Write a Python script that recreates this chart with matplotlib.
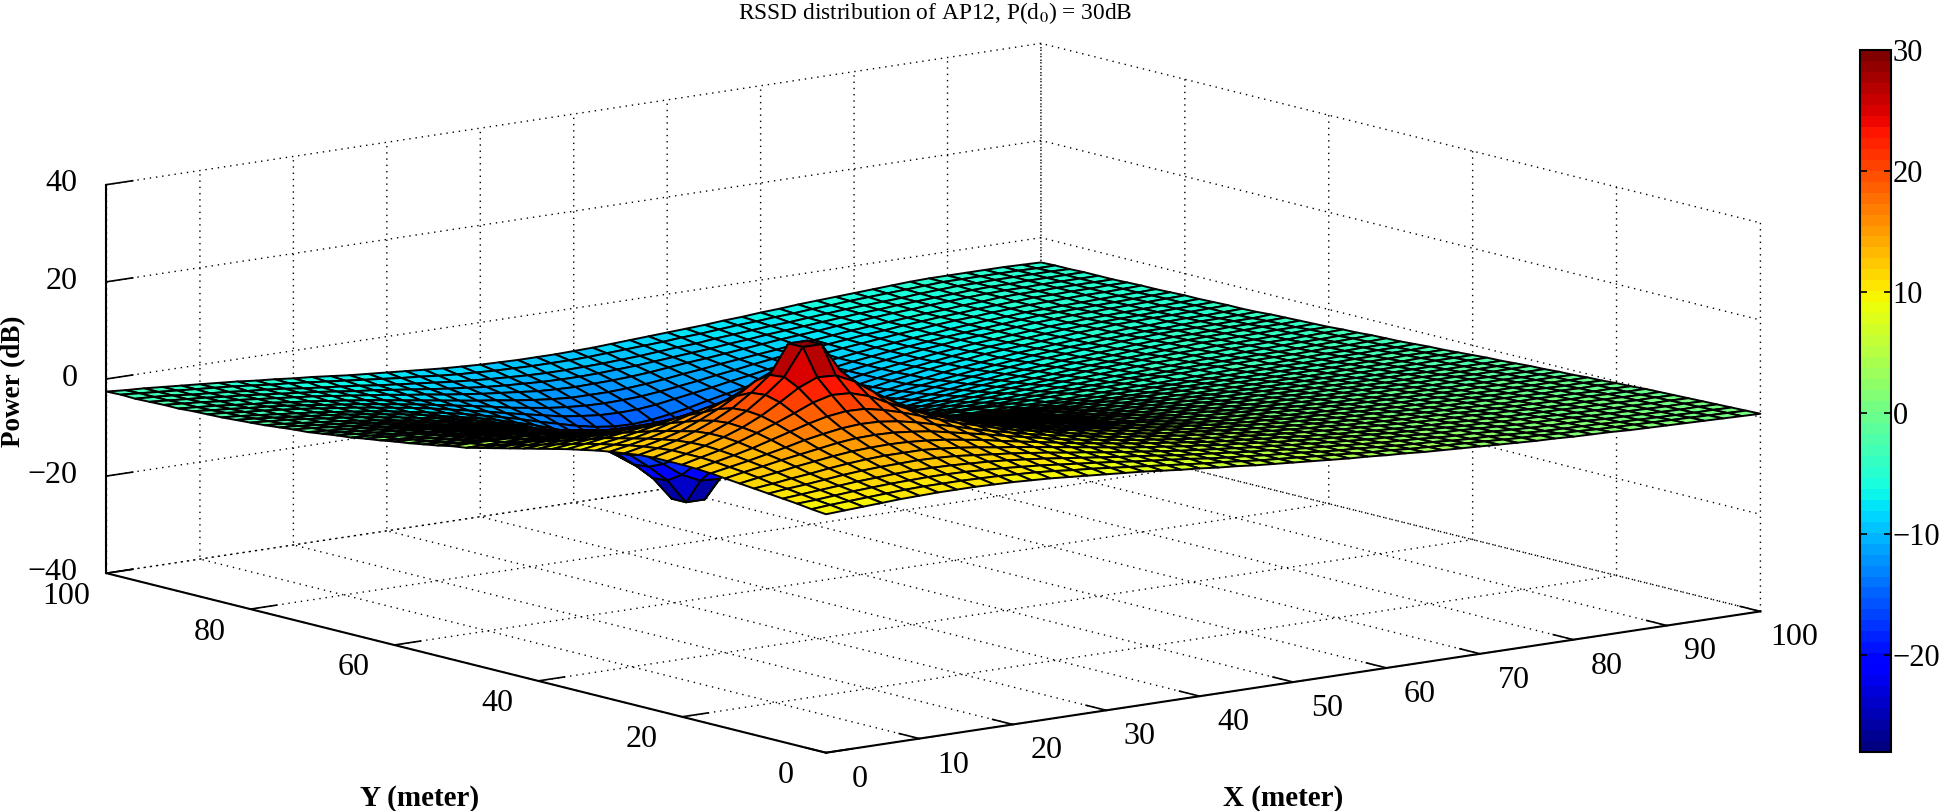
import numpy as np
import matplotlib
matplotlib.use('Agg')
import matplotlib.pyplot as plt

plt.rcParams['font.family'] = ['Liberation Serif', 'DejaVu Serif']
plt.rcParams['mathtext.fontset'] = 'stix'
plt.rcParams['grid.linestyle'] = ':'
plt.rcParams['grid.color'] = 'black'
plt.rcParams['grid.linewidth'] = 1.0
plt.rcParams['lines.dotted_pattern'] = [1, 3.5]

x_ticks = list(range(0, 101, 10))
y_ticks = list(range(0, 101, 20))
z_ticks = [-40, -20, 0, 20, 40]
z_labels = ['\u221240', '\u221220', '0', '20', '40']
cbar_ticks = [-20, -10, 0, 10, 20, 30]

x_m = list(range(0, 101, 2))
y_m = list(range(0, 101, 2))
# one row per y
power_db = [
[9.1,9.3,9.5,9.7,9.9,10.0,10.1,10.1,10.1,10.0,9.9,9.7,9.5,9.2,8.9,8.6,8.3,8.0,7.6,7.2,6.9,6.5,6.2,5.8,5.5,5.2,4.9,4.6,4.3,4.1,3.8,3.6,3.3,3.1,2.9,2.7,2.5,2.3,2.1,2.0,1.8,1.7,1.6,1.4,1.3,1.2,1.1,1.0,0.9,0.8,0.7],
[9.4,9.7,9.9,10.1,10.3,10.5,10.6,10.6,10.6,10.5,10.4,10.2,10.0,9.7,9.3,9.0,8.6,8.2,7.8,7.4,7.0,6.6,6.3,5.9,5.5,5.2,4.9,4.6,4.3,4.0,3.7,3.5,3.2,3.0,2.8,2.6,2.4,2.2,2.0,1.9,1.7,1.6,1.4,1.3,1.2,1.1,1.0,0.9,0.8,0.7,0.6],
[9.8,10.0,10.3,10.6,10.8,11.0,11.1,11.2,11.2,11.1,10.9,10.7,10.4,10.1,9.7,9.3,8.9,8.5,8.0,7.6,7.2,6.8,6.3,5.9,5.6,5.2,4.9,4.6,4.2,3.9,3.7,3.4,3.1,2.9,2.7,2.4,2.2,2.1,1.9,1.7,1.5,1.4,1.3,1.2,1.0,0.9,0.8,0.7,0.6,0.6,0.5],
[10.1,10.4,10.7,11.0,11.3,11.5,11.7,11.8,11.8,11.7,11.5,11.3,11.0,10.6,10.2,9.7,9.2,8.7,8.2,7.8,7.3,6.8,6.4,6.0,5.6,5.2,4.9,4.5,4.2,3.9,3.6,3.3,3.0,2.8,2.6,2.3,2.1,2.0,1.8,1.6,1.4,1.3,1.2,1.1,0.9,0.8,0.7,0.6,0.5,0.5,0.4],
[10.4,10.8,11.1,11.5,11.9,12.2,12.4,12.5,12.6,12.5,12.3,11.9,11.5,11.1,10.6,10.1,9.5,9.0,8.4,7.9,7.4,6.9,6.4,6.0,5.6,5.2,4.8,4.5,4.1,3.8,3.5,3.2,2.9,2.7,2.5,2.2,2.0,1.9,1.7,1.5,1.3,1.2,1.1,1.0,0.8,0.7,0.6,0.5,0.4,0.4,0.3],
[10.7,11.1,11.6,12.0,12.5,12.9,13.2,13.4,13.4,13.4,13.1,12.7,12.2,11.6,11.1,10.5,9.9,9.3,8.7,8.1,7.5,7.0,6.5,6.0,5.6,5.1,4.8,4.4,4.0,3.7,3.4,3.1,2.8,2.6,2.3,2.1,1.9,1.7,1.5,1.4,1.2,1.1,1.0,0.8,0.7,0.6,0.5,0.4,0.3,0.3,0.2],
[11.0,11.6,12.1,12.7,13.2,13.7,14.1,14.3,14.4,14.3,14.0,13.6,13.0,12.4,11.6,10.9,10.2,9.5,8.8,8.2,7.6,7.0,6.5,6.0,5.5,5.0,4.6,4.3,3.9,3.6,3.2,2.9,2.6,2.4,2.1,1.9,1.7,1.5,1.4,1.2,1.1,0.9,0.8,0.7,0.6,0.5,0.4,0.3,0.2,0.2,0.1],
[11.3,12.0,12.6,13.3,13.9,14.5,15.1,15.5,15.6,15.5,15.1,14.6,13.8,13.0,12.2,11.3,10.5,9.7,8.9,8.2,7.6,7.0,6.4,5.9,5.4,4.9,4.5,4.1,3.8,3.4,3.1,2.8,2.5,2.2,2.0,1.8,1.6,1.4,1.2,1.1,1.0,0.8,0.7,0.5,0.4,0.3,0.3,0.2,0.1,0.0,0.0],
[11.6,12.3,13.0,13.8,14.6,15.5,16.2,16.8,17.1,17.0,16.5,15.7,14.7,13.7,12.6,11.6,10.7,9.8,9.0,8.3,7.6,6.9,6.3,5.8,5.3,4.8,4.4,4.0,3.6,3.2,2.9,2.6,2.3,2.1,1.8,1.6,1.4,1.2,1.1,0.9,0.8,0.6,0.5,0.4,0.3,0.2,0.1,0.1,0.0,-0.1,-0.1],
[11.8,12.6,13.4,14.3,15.4,16.5,17.6,18.5,19.0,18.9,18.1,17.0,15.7,14.4,13.1,12.0,10.9,9.9,9.1,8.3,7.5,6.8,6.2,5.6,5.1,4.6,4.2,3.8,3.4,3.0,2.7,2.4,2.1,1.9,1.6,1.4,1.2,1.0,0.9,0.7,0.6,0.5,0.3,0.2,0.1,0.1,0.0,-0.1,-0.2,-0.2,-0.3],
[11.9,12.8,13.7,14.8,16.1,17.5,19.0,20.6,21.6,21.4,20.2,18.3,16.5,14.8,13.5,12.2,11.0,10.0,9.0,8.2,7.4,6.8,6.1,5.5,4.9,4.4,4.0,3.5,3.1,2.8,2.5,2.2,1.9,1.7,1.4,1.2,1.0,0.9,0.7,0.5,0.4,0.3,0.2,0.1,0.0,-0.1,-0.2,-0.2,-0.3,-0.3,-0.4],
[11.9,12.8,13.9,15.1,16.5,18.3,20.5,22.9,24.5,24.3,22.5,19.8,17.3,15.3,13.7,12.2,11.0,9.9,8.9,8.0,7.2,6.5,5.9,5.3,4.7,4.2,3.7,3.3,2.9,2.5,2.2,1.9,1.7,1.4,1.2,1.0,0.8,0.6,0.5,0.3,0.2,0.1,0.0,-0.1,-0.2,-0.3,-0.3,-0.4,-0.5,-0.5,-0.6],
[11.9,12.8,13.8,15.1,16.7,18.6,21.3,24.4,30.0,30.0,24.0,20.6,17.6,15.4,13.5,12.1,10.8,9.6,8.6,7.7,6.9,6.2,5.6,5.0,4.4,3.9,3.4,3.0,2.6,2.2,1.9,1.6,1.4,1.1,0.9,0.7,0.5,0.4,0.2,0.1,0.0,-0.1,-0.2,-0.3,-0.4,-0.5,-0.5,-0.6,-0.6,-0.7,-0.7],
[11.7,12.5,13.5,14.8,16.4,18.4,21.0,24.1,30.0,30.0,23.7,20.3,17.3,15.1,13.3,11.8,10.5,9.4,8.4,7.4,6.6,5.9,5.3,4.7,4.1,3.5,3.1,2.7,2.3,1.9,1.6,1.3,1.1,0.9,0.7,0.5,0.3,0.2,0.0,-0.1,-0.2,-0.3,-0.4,-0.5,-0.6,-0.6,-0.7,-0.7,-0.8,-0.8,-0.9],
[11.3,12.1,13.0,14.1,15.7,17.5,19.6,22.1,23.7,23.5,21.7,18.9,16.5,14.4,12.7,11.3,10.0,8.9,8.0,7.1,6.2,5.5,4.8,4.2,3.6,3.1,2.6,2.2,1.9,1.6,1.3,1.0,0.8,0.6,0.4,0.2,0.0,-0.1,-0.3,-0.4,-0.5,-0.6,-0.6,-0.7,-0.8,-0.8,-0.9,-0.9,-1.0,-1.0,-1.0],
[10.9,11.6,12.4,13.4,14.7,16.1,17.6,19.2,20.2,20.1,18.8,16.9,15.1,13.4,11.9,10.5,9.3,8.2,7.3,6.4,5.6,4.9,4.3,3.7,3.1,2.7,2.2,1.8,1.5,1.2,0.9,0.7,0.5,0.2,0.0,-0.1,-0.3,-0.4,-0.5,-0.6,-0.7,-0.8,-0.8,-0.9,-1.0,-1.0,-1.0,-1.1,-1.1,-1.2,-1.2],
[10.4,11.0,11.7,12.6,13.7,14.8,15.8,16.7,17.1,17.0,16.1,14.9,13.5,12.2,10.9,9.7,8.6,7.6,6.7,5.9,5.1,4.4,3.8,3.2,2.7,2.2,1.8,1.4,1.1,0.8,0.5,0.3,0.1,-0.1,-0.3,-0.5,-0.6,-0.7,-0.8,-0.9,-1.0,-1.0,-1.1,-1.1,-1.2,-1.2,-1.2,-1.3,-1.3,-1.3,-1.3],
[9.8,10.4,11.0,11.7,12.5,13.3,14.0,14.5,14.7,14.6,13.9,13.0,12.0,10.9,9.8,8.7,7.7,6.8,5.9,5.1,4.4,3.8,3.2,2.6,2.1,1.7,1.3,0.9,0.6,0.3,0.1,-0.1,-0.3,-0.5,-0.6,-0.8,-0.9,-1.0,-1.1,-1.2,-1.2,-1.3,-1.3,-1.4,-1.4,-1.4,-1.5,-1.5,-1.5,-1.5,-1.5],
[9.2,9.7,10.3,10.8,11.3,11.9,12.3,12.6,12.7,12.5,12.0,11.3,10.5,9.6,8.6,7.7,6.7,5.9,5.1,4.4,3.7,3.1,2.5,2.0,1.5,1.1,0.7,0.4,0.1,-0.2,-0.4,-0.5,-0.7,-0.9,-1.0,-1.2,-1.3,-1.3,-1.4,-1.5,-1.5,-1.5,-1.6,-1.6,-1.6,-1.6,-1.7,-1.7,-1.7,-1.7,-1.7],
[8.5,8.9,9.3,9.7,10.2,10.5,10.8,10.9,10.9,10.7,10.3,9.7,9.0,8.2,7.4,6.6,5.8,5.0,4.3,3.6,3.0,2.4,1.9,1.4,0.9,0.5,0.2,-0.2,-0.4,-0.6,-0.9,-1.0,-1.1,-1.3,-1.4,-1.5,-1.6,-1.7,-1.7,-1.8,-1.8,-1.8,-1.8,-1.9,-1.9,-1.9,-1.9,-1.9,-1.9,-1.8,-1.8],
[7.8,8.1,8.4,8.7,9.0,9.3,9.4,9.5,9.4,9.2,8.8,8.2,7.6,7.0,6.2,5.5,4.7,4.0,3.3,2.7,2.1,1.6,1.1,0.7,0.3,-0.1,-0.4,-0.7,-0.9,-1.2,-1.4,-1.5,-1.6,-1.7,-1.8,-1.9,-2.0,-2.0,-2.1,-2.1,-2.1,-2.1,-2.1,-2.1,-2.1,-2.1,-2.1,-2.1,-2.0,-2.0,-2.0],
[7.1,7.3,7.5,7.7,7.9,8.1,8.2,8.2,8.1,7.8,7.4,6.9,6.3,5.7,5.0,4.4,3.7,3.0,2.4,1.8,1.3,0.8,0.3,-0.1,-0.5,-0.8,-1.1,-1.3,-1.5,-1.7,-1.9,-2.0,-2.1,-2.2,-2.3,-2.3,-2.4,-2.4,-2.4,-2.4,-2.4,-2.4,-2.4,-2.4,-2.3,-2.3,-2.3,-2.3,-2.2,-2.2,-2.2],
[6.4,6.5,6.7,6.8,6.9,7.0,7.0,7.0,6.8,6.5,6.1,5.6,5.1,4.5,3.9,3.3,2.7,2.1,1.4,0.9,0.4,-0.1,-0.5,-0.9,-1.2,-1.6,-1.8,-2.0,-2.2,-2.3,-2.5,-2.5,-2.6,-2.6,-2.7,-2.7,-2.7,-2.7,-2.7,-2.7,-2.7,-2.7,-2.6,-2.6,-2.6,-2.5,-2.5,-2.5,-2.4,-2.4,-2.4],
[5.7,5.8,5.9,5.9,6.0,6.0,5.9,5.7,5.5,5.2,4.8,4.4,3.9,3.3,2.8,2.2,1.6,1.0,0.5,0.0,-0.6,-1.0,-1.4,-1.7,-2.0,-2.3,-2.5,-2.7,-2.9,-3.0,-3.1,-3.1,-3.2,-3.2,-3.2,-3.2,-3.1,-3.1,-3.1,-3.0,-3.0,-3.0,-2.9,-2.9,-2.8,-2.8,-2.7,-2.7,-2.6,-2.6,-2.5],
[5.0,5.0,5.0,5.0,5.0,5.0,4.8,4.6,4.3,4.0,3.7,3.2,2.7,2.2,1.6,1.1,0.5,0.0,-0.5,-1.0,-1.6,-2.0,-2.3,-2.6,-2.9,-3.2,-3.4,-3.5,-3.6,-3.7,-3.7,-3.7,-3.7,-3.7,-3.6,-3.6,-3.5,-3.5,-3.4,-3.4,-3.3,-3.2,-3.2,-3.1,-3.1,-3.0,-2.9,-2.9,-2.8,-2.8,-2.7],
[4.3,4.3,4.3,4.3,4.2,4.0,3.8,3.6,3.3,3.0,2.6,2.1,1.6,1.1,0.5,0.0,-0.5,-1.1,-1.6,-2.1,-2.6,-3.0,-3.3,-3.6,-3.8,-4.0,-4.2,-4.3,-4.3,-4.3,-4.3,-4.3,-4.3,-4.2,-4.1,-4.0,-3.9,-3.9,-3.8,-3.7,-3.6,-3.5,-3.4,-3.4,-3.3,-3.2,-3.1,-3.1,-3.0,-3.0,-2.9],
[3.9,3.9,3.8,3.7,3.6,3.4,3.1,2.8,2.5,2.2,1.8,1.2,0.7,0.2,-0.3,-0.9,-1.4,-2.0,-2.5,-3.0,-3.5,-3.8,-4.1,-4.4,-4.6,-4.8,-4.8,-4.8,-4.8,-4.8,-4.8,-4.7,-4.6,-4.5,-4.4,-4.3,-4.2,-4.0,-3.9,-3.8,-3.7,-3.6,-3.5,-3.4,-3.4,-3.4,-3.3,-3.2,-3.2,-3.1,-3.0],
[3.3,3.2,3.1,2.9,2.7,2.5,2.2,1.9,1.6,1.2,0.8,0.2,-0.3,-0.8,-1.4,-2.0,-2.6,-3.1,-3.7,-4.2,-4.6,-5.0,-5.3,-5.5,-5.7,-5.8,-5.8,-5.7,-5.7,-5.6,-5.5,-5.3,-5.1,-5.0,-4.9,-4.7,-4.6,-4.4,-4.3,-4.2,-4.0,-3.9,-3.8,-3.7,-3.6,-3.6,-3.5,-3.4,-3.3,-3.2,-3.1],
[2.8,2.6,2.5,2.3,2.1,1.9,1.5,1.2,0.8,0.4,-0.1,-0.6,-1.1,-1.8,-2.4,-3.0,-3.6,-4.2,-4.8,-5.3,-5.8,-6.2,-6.5,-6.7,-6.7,-6.7,-6.6,-6.5,-6.4,-6.2,-6.1,-5.9,-5.7,-5.5,-5.3,-5.1,-4.9,-4.7,-4.6,-4.4,-4.3,-4.1,-4.0,-3.9,-3.8,-3.7,-3.6,-3.5,-3.5,-3.4,-3.3],
[2.3,2.1,1.9,1.7,1.5,1.2,0.9,0.5,0.1,-0.4,-0.9,-1.4,-2.0,-2.6,-3.3,-4.0,-4.6,-5.3,-5.9,-6.5,-7.0,-7.4,-7.7,-7.8,-7.8,-7.7,-7.5,-7.3,-7.1,-6.9,-6.7,-6.4,-6.1,-5.9,-5.6,-5.4,-5.2,-5.0,-4.8,-4.6,-4.4,-4.3,-4.1,-4.0,-3.9,-3.8,-3.7,-3.7,-3.6,-3.5,-3.4],
[1.9,1.7,1.4,1.2,0.9,0.6,0.2,-0.2,-0.6,-1.1,-1.6,-2.2,-2.8,-3.5,-4.2,-5.0,-5.7,-6.5,-7.1,-7.7,-8.3,-8.7,-8.9,-9.0,-8.9,-8.8,-8.5,-8.2,-7.9,-7.6,-7.3,-7.0,-6.7,-6.3,-6.1,-5.8,-5.5,-5.2,-5.0,-4.8,-4.6,-4.4,-4.3,-4.2,-4.0,-4.0,-3.9,-3.8,-3.7,-3.6,-3.6],
[1.4,1.1,0.9,0.7,0.3,0.0,-0.4,-0.9,-1.4,-1.9,-2.5,-3.1,-3.8,-4.5,-5.3,-6.1,-6.9,-7.7,-8.5,-9.2,-9.8,-10.2,-10.4,-10.4,-10.3,-10.0,-9.7,-9.2,-8.8,-8.4,-8.0,-7.6,-7.2,-6.8,-6.5,-6.2,-5.9,-5.6,-5.3,-5.1,-4.9,-4.7,-4.5,-4.3,-4.1,-4.1,-4.0,-3.9,-3.8,-3.8,-3.7],
[1.0,0.8,0.5,0.2,-0.1,-0.5,-0.9,-1.4,-1.9,-2.5,-3.1,-3.8,-4.5,-5.3,-6.1,-7.1,-8.0,-9.0,-9.9,-10.7,-11.4,-11.9,-12.1,-12.0,-11.7,-11.3,-10.7,-10.2,-9.7,-9.1,-8.6,-8.1,-7.6,-7.2,-6.8,-6.5,-6.1,-5.8,-5.5,-5.3,-5.1,-4.8,-4.6,-4.4,-4.3,-4.2,-4.1,-4.0,-3.9,-3.9,-3.8],
[0.5,0.3,0.0,-0.3,-0.7,-1.1,-1.5,-2.0,-2.6,-3.2,-3.8,-4.5,-5.3,-6.2,-7.1,-8.1,-9.2,-10.3,-11.4,-12.4,-13.3,-14.0,-14.1,-13.9,-13.4,-12.7,-11.9,-11.1,-10.4,-9.8,-9.2,-8.7,-8.2,-7.7,-7.3,-6.8,-6.5,-6.2,-5.8,-5.6,-5.3,-5.1,-4.8,-4.6,-4.4,-4.4,-4.3,-4.1,-4.1,-4.0,-3.9],
[0.2,-0.1,-0.4,-0.7,-1.1,-1.5,-2.0,-2.5,-3.1,-3.7,-4.4,-5.2,-6.0,-6.9,-7.9,-9.0,-10.2,-11.5,-12.8,-14.2,-15.4,-16.3,-16.4,-16.0,-15.1,-14.1,-13.0,-11.9,-11.0,-10.3,-9.7,-9.1,-8.5,-8.0,-7.5,-7.1,-6.7,-6.3,-6.0,-5.7,-5.4,-5.2,-4.9,-4.7,-4.5,-4.4,-4.4,-4.3,-4.2,-4.2,-4.0],
[-0.2,-0.5,-0.8,-1.1,-1.5,-2.0,-2.4,-3.0,-3.6,-4.2,-4.9,-5.7,-6.6,-7.5,-8.6,-9.8,-11.2,-12.7,-14.4,-16.2,-18.1,-19.4,-19.5,-18.5,-16.9,-15.4,-14.0,-12.7,-11.7,-10.9,-10.2,-9.5,-8.9,-8.4,-7.9,-7.4,-7.0,-6.6,-6.2,-5.9,-5.6,-5.4,-5.1,-4.9,-4.7,-4.7,-4.5,-4.4,-4.4,-4.3,-4.2],
[-0.6,-0.9,-1.2,-1.5,-1.9,-2.4,-2.9,-3.5,-4.1,-4.8,-5.5,-6.4,-7.3,-8.2,-9.3,-10.6,-12.0,-13.7,-15.8,-18.2,-21.0,-22.8,-23.0,-21.4,-18.9,-16.8,-15.0,-13.4,-12.3,-11.4,-10.6,-9.9,-9.3,-8.7,-8.1,-7.6,-7.2,-6.8,-6.4,-6.1,-5.8,-5.5,-5.3,-5.0,-4.8,-4.8,-4.6,-4.5,-4.5,-4.4,-4.3],
[-0.8,-1.1,-1.5,-1.9,-2.3,-2.7,-3.3,-3.9,-4.5,-5.1,-5.8,-6.6,-7.6,-8.6,-9.7,-11.0,-12.5,-14.3,-16.5,-19.5,-22.9,-28.0,-28.0,-23.3,-20.2,-17.6,-15.6,-14.0,-12.7,-11.7,-10.9,-10.1,-9.4,-8.8,-8.2,-7.7,-7.3,-6.8,-6.5,-6.2,-5.9,-5.6,-5.3,-5.1,-4.8,-4.7,-4.6,-4.6,-4.5,-4.4,-4.3],
[-1.1,-1.4,-1.8,-2.2,-2.6,-3.1,-3.6,-4.2,-4.8,-5.4,-6.1,-6.9,-7.8,-8.8,-10.0,-11.3,-12.7,-14.6,-16.8,-19.8,-23.2,-28.0,-28.0,-23.6,-20.5,-17.8,-15.9,-14.3,-13.0,-12.0,-11.1,-10.3,-9.6,-9.0,-8.4,-7.9,-7.4,-7.0,-6.6,-6.3,-6.0,-5.7,-5.4,-5.2,-5.0,-4.9,-4.8,-4.7,-4.6,-4.5,-4.4],
[-1.4,-1.7,-2.1,-2.5,-2.9,-3.4,-3.9,-4.5,-5.1,-5.7,-6.4,-7.2,-8.1,-9.1,-10.2,-11.4,-12.9,-14.5,-16.5,-19.0,-21.7,-23.5,-23.7,-22.1,-19.7,-17.5,-15.7,-14.3,-13.1,-12.0,-11.1,-10.3,-9.6,-9.0,-8.5,-8.0,-7.5,-7.1,-6.7,-6.4,-6.1,-5.8,-5.5,-5.3,-5.1,-5.0,-4.9,-4.8,-4.7,-4.6,-4.5],
[-1.6,-1.9,-2.2,-2.6,-3.1,-3.5,-4.0,-4.6,-5.2,-5.9,-6.5,-7.3,-8.1,-9.1,-10.1,-11.3,-12.6,-13.9,-15.6,-17.4,-19.3,-20.5,-20.7,-19.7,-18.1,-16.6,-15.2,-13.9,-12.8,-11.9,-11.0,-10.2,-9.6,-9.0,-8.5,-8.0,-7.5,-7.1,-6.7,-6.4,-6.1,-5.8,-5.5,-5.3,-5.1,-5.0,-4.9,-4.8,-4.7,-4.6,-4.5],
[-1.8,-2.1,-2.5,-2.9,-3.3,-3.7,-4.2,-4.7,-5.3,-5.9,-6.6,-7.4,-8.2,-9.0,-10.0,-11.1,-12.2,-13.5,-14.8,-16.1,-17.2,-18.0,-18.1,-17.6,-16.7,-15.6,-14.5,-13.4,-12.5,-11.7,-10.9,-10.2,-9.6,-9.0,-8.5,-8.0,-7.6,-7.2,-6.8,-6.5,-6.2,-5.9,-5.6,-5.3,-5.2,-5.1,-5.0,-4.9,-4.8,-4.7,-4.6],
[-2.0,-2.3,-2.7,-3.1,-3.5,-3.9,-4.4,-4.9,-5.4,-6.0,-6.7,-7.4,-8.1,-8.9,-9.8,-10.7,-11.7,-12.8,-13.8,-14.8,-15.6,-16.1,-16.2,-15.9,-15.3,-14.6,-13.7,-12.9,-12.1,-11.4,-10.7,-10.1,-9.5,-9.0,-8.5,-8.0,-7.6,-7.2,-6.9,-6.5,-6.2,-5.9,-5.7,-5.4,-5.3,-5.2,-5.1,-5.0,-4.9,-4.8,-4.7],
[-2.1,-2.4,-2.8,-3.1,-3.5,-3.9,-4.4,-4.9,-5.4,-6.0,-6.6,-7.2,-7.9,-8.7,-9.5,-10.3,-11.2,-12.0,-12.8,-13.6,-14.1,-14.5,-14.6,-14.5,-14.1,-13.5,-12.9,-12.3,-11.6,-11.0,-10.3,-9.8,-9.2,-8.8,-8.3,-7.9,-7.5,-7.1,-6.8,-6.4,-6.1,-5.9,-5.6,-5.4,-5.2,-5.1,-5.0,-4.9,-4.9,-4.8,-4.7],
[-2.2,-2.6,-2.9,-3.3,-3.6,-4.0,-4.5,-5.0,-5.5,-6.0,-6.6,-7.2,-7.8,-8.5,-9.2,-9.9,-10.6,-11.4,-12.0,-12.6,-13.0,-13.3,-13.4,-13.3,-13.1,-12.7,-12.2,-11.7,-11.1,-10.6,-10.0,-9.5,-9.0,-8.6,-8.2,-7.8,-7.4,-7.1,-6.7,-6.4,-6.1,-5.9,-5.6,-5.4,-5.2,-5.0,-5.0,-4.9,-4.9,-4.8,-4.8],
[-2.4,-2.7,-3.0,-3.4,-3.8,-4.1,-4.6,-5.0,-5.5,-6.0,-6.5,-7.1,-7.7,-8.3,-8.9,-9.5,-10.1,-10.6,-11.2,-11.7,-12.1,-12.4,-12.4,-12.4,-12.2,-11.9,-11.5,-11.0,-10.6,-10.1,-9.7,-9.3,-8.9,-8.4,-8.1,-7.7,-7.3,-7.0,-6.7,-6.4,-6.1,-5.9,-5.6,-5.4,-5.1,-5.0,-5.0,-4.9,-4.9,-4.9,-4.9],
[-2.4,-2.7,-3.0,-3.4,-3.7,-4.1,-4.5,-4.9,-5.3,-5.8,-6.3,-6.8,-7.3,-7.9,-8.4,-9.0,-9.5,-10.0,-10.4,-10.8,-11.2,-11.4,-11.5,-11.4,-11.3,-11.1,-10.8,-10.4,-10.0,-9.7,-9.3,-8.9,-8.5,-8.1,-7.8,-7.5,-7.1,-6.8,-6.5,-6.2,-6.0,-5.7,-5.5,-5.3,-5.1,-5.0,-5.0,-4.9,-4.9,-4.9,-4.9],
[-2.5,-2.8,-3.1,-3.4,-3.8,-4.1,-4.5,-4.9,-5.3,-5.7,-6.2,-6.7,-7.1,-7.6,-8.1,-8.6,-9.1,-9.5,-9.9,-10.2,-10.4,-10.6,-10.7,-10.7,-10.6,-10.4,-10.2,-9.9,-9.6,-9.3,-9.0,-8.6,-8.3,-7.9,-7.6,-7.3,-7.0,-6.7,-6.4,-6.2,-5.9,-5.7,-5.5,-5.3,-5.1,-5.0,-5.0,-4.9,-4.9,-4.9,-4.9],
[-2.6,-2.8,-3.1,-3.5,-3.8,-4.1,-4.5,-4.8,-5.2,-5.7,-6.1,-6.5,-6.9,-7.4,-7.8,-8.2,-8.6,-9.0,-9.3,-9.6,-9.8,-10.0,-10.1,-10.1,-10.0,-9.9,-9.7,-9.5,-9.2,-8.9,-8.7,-8.3,-8.0,-7.7,-7.4,-7.2,-6.9,-6.6,-6.3,-6.1,-5.9,-5.7,-5.4,-5.2,-5.0,-5.0,-4.9,-4.9,-4.9,-4.9,-5.0],
[-2.5,-2.8,-3.1,-3.4,-3.7,-4.0,-4.3,-4.7,-5.1,-5.4,-5.8,-6.2,-6.6,-7.0,-7.4,-7.8,-8.1,-8.5,-8.8,-9.0,-9.2,-9.3,-9.4,-9.4,-9.4,-9.3,-9.1,-8.9,-8.7,-8.5,-8.2,-8.0,-7.7,-7.4,-7.2,-6.9,-6.7,-6.4,-6.2,-5.9,-5.7,-5.5,-5.3,-5.1,-4.9,-4.9,-4.9,-4.9,-4.9,-5.0,-5.0],
[-2.6,-2.9,-3.1,-3.4,-3.7,-4.0,-4.3,-4.6,-5.0,-5.3,-5.7,-6.0,-6.4,-6.8,-7.1,-7.4,-7.7,-8.0,-8.3,-8.5,-8.7,-8.8,-8.9,-8.9,-8.9,-8.8,-8.7,-8.5,-8.3,-8.1,-7.9,-7.7,-7.5,-7.2,-7.0,-6.7,-6.5,-6.2,-6.0,-5.8,-5.6,-5.4,-5.2,-5.0,-4.9,-4.9,-4.9,-4.9,-4.9,-5.0,-5.1],
]

fig = plt.figure(figsize=(19.4, 8.11), dpi=100)
side = 1662
ax = fig.add_axes([80 / 1940, -440.5 / 811, side / 1940, side / 811], projection='3d', proj_type='ortho')
ax.set_box_aspect((1184, 1171, 396))
ax.view_init(elev=11.2, azim=232.1)
ax.patch.set_alpha(0)

X, Y = np.meshgrid(x_m, y_m)
Z = np.array(power_db)
jet64 = plt.get_cmap('jet', 64)
surf = ax.plot_surface(X, Y, Z, rstride=1, cstride=1, cmap=jet64, vmin=-28, vmax=30,
                       edgecolor='black', linewidth=1.4, shade=False)
surf.set_clip_on(False)

ax.set_xlim(0, 100)
ax.set_ylim(0, 100)
ax.set_zlim(-40, 40)
ax.set_xticks(x_ticks)
ax.set_yticks(y_ticks)
ax.set_zticks(z_ticks, labels=z_labels, ha='right', va='center')
ax.tick_params(labelsize=23)
ax.tick_params(axis='x', pad=21)
ax.tick_params(axis='y', pad=19)
ax.tick_params(axis='z', pad=3)
for lab in ax.get_xticklabels() + ax.get_yticklabels():
    lab.set_va('center')

for axis in (ax.xaxis, ax.yaxis, ax.zaxis):
    axis.set_pane_color((1, 1, 1, 0))
    axis.pane.set_edgecolor('none')
    axis.line.set_color('black')
    axis.line.set_linewidth(1.5)
    axis._axinfo['tick']['inward_factor'] = 0.0
    axis._axinfo['tick']['outward_factor'] = 0.35
    axis._axinfo['tick']['linewidth'] = {True: 1.2, False: 0.8}

fig.text(935 / 1940, 1 - 19 / 811, r'RSSD distribution of AP12, P(d$_0$) = 30dB', fontsize=16.8, ha='center', va='baseline')
fig.text(14 / 1940, 1 - 381 / 811, 'Power (dB)', fontsize=19.5, fontweight='bold', rotation=90, ha='center', va='center')
fig.text(420 / 1940, 1 - 798 / 811, 'Y (meter)', fontsize=21, fontweight='bold', ha='center', va='center')
fig.text(1283 / 1940, 1 - 798 / 811, 'X (meter)', fontsize=21, fontweight='bold', ha='center', va='center')

cax = fig.add_axes([1860 / 1940, 59 / 811, 31 / 1940, 702 / 811])
cbar = fig.colorbar(surf, cax=cax, ticks=cbar_ticks)
cbar.ax.tick_params(labelsize=22, direction='in', left=True, right=True, length=5, width=1.2, pad=1)
cbar.outline.set_linewidth(1.5)

fig.savefig('out.png', dpi=100)
